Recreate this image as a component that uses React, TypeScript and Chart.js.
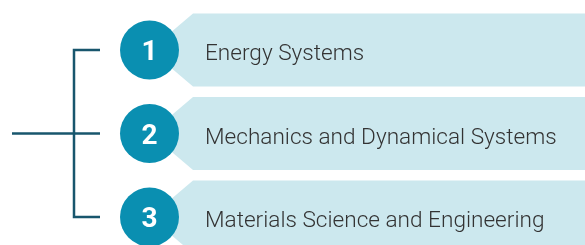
import React, { useEffect, useRef } from "react";
import { Chart, registerables } from "chart.js";

Chart.register(...registerables);

// ---- data ----
const NUMBERS = ["1", "2", "3"];
const CATEGORIES = [
  "Energy Systems",
  "Mechanics and Dynamical Systems",
  "Materials Science and Engineering",
];
const ROWS = [0, 1, 2];
const ROOT_ROW = 1;

// ---- styles ----
const CIRCLE_COLOR = "#0a8fb1";
const BAND_COLOR = "#cce8ee";
const LINE_COLOR = "#18566d";
const TEXT_COLOR = "#333333";

const bandsPlugin = {
  id: "bands",
  beforeDatasetsDraw(chart: any) {
    const { ctx, scales } = chart;
    const x = scales.x;
    const y = scales.y;
    ctx.save();
    ctx.fillStyle = BAND_COLOR;
    ROWS.forEach((r) => {
      const cy = y.getPixelForValue(r);
      const half = Math.abs(y.getPixelForValue(r + 0.437) - cy);
      const tip = x.getPixelForValue(150);
      const corner = x.getPixelForValue(193);
      const right = x.getPixelForValue(600);
      ctx.beginPath();
      ctx.moveTo(tip, cy);
      ctx.lineTo(corner, cy - half);
      ctx.lineTo(right, cy - half);
      ctx.lineTo(right, cy + half);
      ctx.lineTo(corner, cy + half);
      ctx.closePath();
      ctx.fill();
    });
    ctx.restore();
  },
  afterDatasetsDraw(chart: any) {
    const { ctx, scales } = chart;
    const x = scales.x;
    const y = scales.y;
    ctx.save();
    ROWS.forEach((r) => {
      const cy = y.getPixelForValue(r);
      ctx.fillStyle = "#ffffff";
      ctx.font = "bold 28px Roboto";
      ctx.textAlign = "center";
      ctx.textBaseline = "alphabetic";
      ctx.fillText(NUMBERS[r], x.getPixelForValue(149.5), cy + 10);
      ctx.fillStyle = TEXT_COLOR;
      ctx.font = "300 22.6px Roboto";
      ctx.textAlign = "left";
      ctx.fillText(CATEGORIES[r], x.getPixelForValue(205), cy + 10);
    });
    ctx.restore();
  },
};

export default function App() {
  const ref = useRef<HTMLCanvasElement>(null);
  useEffect(() => {
    document.body.style.margin = "0";
    const first = ROWS[0];
    const last = ROWS[ROWS.length - 1];
    const chart = new Chart(ref.current!, {
      type: "scatter",
      data: {
        datasets: [
          {
            data: [
              { x: 100, y: first },
              { x: 74, y: first },
              { x: 74, y: last },
              { x: 100, y: last },
            ],
            showLine: true,
            borderColor: LINE_COLOR,
            borderWidth: 2.5,
            pointRadius: 0,
            tension: 0,
            borderCapStyle: "butt",
            borderJoinStyle: "miter",
            clip: false,
          } as any,
          {
            data: [
              { x: 12, y: ROOT_ROW },
              { x: 100, y: ROOT_ROW },
            ],
            showLine: true,
            borderColor: LINE_COLOR,
            borderWidth: 2.5,
            pointRadius: 0,
            clip: false,
          } as any,
          {
            data: ROWS.map((r) => ({ x: 149.5, y: r })),
            pointRadius: 29.5,
            pointHoverRadius: 29.5,
            backgroundColor: CIRCLE_COLOR,
            borderWidth: 0,
            clip: false,
          } as any,
        ],
      },
      options: {
        animation: false,
        responsive: false,
        events: [],
        layout: { padding: 0, autoPadding: false },
        plugins: { legend: { display: false }, tooltip: { enabled: false } },
        scales: {
          x: { type: "linear", min: 0, max: 585, display: false },
          y: {
            type: "linear",
            min: -0.5988,
            max: 2.3353,
            reverse: true,
            display: false,
          },
        },
      },
      plugins: [bandsPlugin],
    });
    return () => chart.destroy();
  }, []);
  return (
    <div style={{ position: "absolute", left: 0, top: 0, width: 585, height: 245 }}>
      <canvas ref={ref} width={585} height={245} />
    </div>
  );
}
